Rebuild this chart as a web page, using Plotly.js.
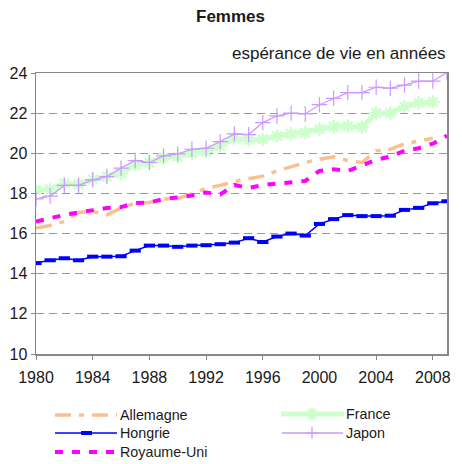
<!DOCTYPE html>
<html>
<head>
<meta charset="utf-8">
<script src="https://cdn.plot.ly/plotly-3.0.1.min.js"></script>
<style>html,body{margin:0;padding:0;background:#fff;}#chart{width:462px;height:464px;}</style>
</head>
<body>
<div id="chart"></div>
<script>
const years = [1980,1981,1982,1983,1984,1985,1986,1987,1988,1989,1990,1991,1992,1993,1994,1995,1996,1997,1998,1999,2000,2001,2002,2003,2004,2005,2006,2007,2008,2009];
const yearsFrance = years.slice(0, 29);
const yearsAllemagne = years.slice(0, 29);

const allemagne = [16.27,16.4,16.6,17.05,17.1,16.93,17.27,17.52,17.55,17.72,17.75,17.98,18.26,18.4,18.6,18.72,18.86,19.12,19.34,19.54,19.7,19.83,19.64,19.54,20.12,20.2,20.47,20.6,20.75];
const france = [18.18,18.2,18.5,18.45,18.7,18.84,19.0,19.42,19.54,19.76,19.84,20.0,20.08,20.37,20.75,20.67,20.7,20.86,20.97,21.03,21.2,21.33,21.36,21.3,22.0,22.0,22.33,22.52,22.56];
const hongrie = [14.53,14.67,14.77,14.67,14.85,14.85,14.87,15.15,15.4,15.4,15.34,15.4,15.42,15.47,15.55,15.77,15.58,15.85,16.0,15.9,16.48,16.72,16.92,16.87,16.87,16.89,17.18,17.28,17.51,17.61];
const japon = [17.73,17.87,18.4,18.4,18.68,18.84,19.26,19.64,19.54,19.87,19.97,20.2,20.25,20.58,20.97,20.93,21.53,21.86,22.0,21.96,22.42,22.74,23.02,23.02,23.29,23.24,23.4,23.6,23.6,24.02];
const royaumeUni = [16.6,16.77,16.93,17.05,17.18,17.27,17.32,17.52,17.55,17.72,17.8,17.9,18.05,17.95,18.42,18.27,18.42,18.48,18.58,18.62,19.12,19.2,19.12,19.42,19.67,19.84,20.13,20.25,20.48,20.88];

const seriesNames = ['Allemagne', 'France', 'Hongrie', 'Japon', 'Royaume-Uni'];
const xTicks = [1980,1984,1988,1992,1996,2000,2004,2008];
const yTicks = [10,12,14,16,18,20,22,24];

const COL = {Allemagne: '#FAC090', France: '#CCFFCC', Hongrie: '#0000FF', Japon: '#CC99FF', 'Royaume-Uni': '#FF00FF'};
const DASH = {Allemagne: '16px,8px,5px,8px', 'Royaume-Uni': '8px,9px'};

const traces = [
  {x: yearsAllemagne, y: allemagne, name: seriesNames[0], mode: 'lines',
   line: {color: COL.Allemagne, width: 3.5, dash: DASH.Allemagne}},
  {x: yearsFrance, y: france, name: seriesNames[1], mode: 'lines+markers',
   line: {color: COL.France, width: 5},
   marker: {symbol: 'asterisk-open', size: 11, color: COL.France, line: {color: COL.France, width: 2.5}}},
  {x: years, y: hongrie, name: seriesNames[2], mode: 'lines+markers',
   line: {color: COL.Hongrie, width: 1.5},
   marker: {symbol: 'line-ew-open', size: 8, color: COL.Hongrie, line: {color: COL.Hongrie, width: 4}}},
  {x: years, y: japon, name: seriesNames[3], mode: 'lines+markers',
   line: {color: COL.Japon, width: 1.3},
   marker: {symbol: 'cross-thin-open', size: 11, color: COL.Japon, line: {color: COL.Japon, width: 1.2}}},
  {x: years, y: royaumeUni, name: seriesNames[4], mode: 'lines',
   line: {color: COL['Royaume-Uni'], width: 4, dash: DASH['Royaume-Uni']}}
];

// plot area geometry (pixels) used to place the hand-built legend
const W = 462, H = 464, ML = 36, MR = 15, MT = 73, MB = 110;
const PW = W - ML - MR, PH = H - MT - MB;
const px = v => (v - ML) / PW;
const py = v => (H - MB - v) / PH;

const shapes = [];
const annotations = [];
function seg(x0, y0, x1, y1, color, width, dash) {
  shapes.push({type: 'line', xref: 'paper', yref: 'paper', x0: px(x0), y0: py(y0), x1: px(x1), y1: py(y1),
               line: {color: color, width: width, dash: dash || 'solid'}});
}
function label(text, x, y) {
  annotations.push({text: text, xref: 'paper', yref: 'paper', x: px(x), y: py(y), xanchor: 'left', yanchor: 'middle',
                    showarrow: false, font: {size: 14.3, color: '#1a1a1a'}});
}
// legend column 1
seg(55, 415, 117, 415, COL.Allemagne, 3.5, DASH.Allemagne); label(seriesNames[0], 118, 415);
seg(55, 433, 117, 433, COL.Hongrie, 1.5); seg(81, 433, 92, 433, COL.Hongrie, 4); label(seriesNames[2], 118, 433);
seg(55, 452, 117, 452, COL['Royaume-Uni'], 4, DASH['Royaume-Uni']); label(seriesNames[4], 118, 452);
// legend column 2
seg(281, 414, 344, 414, COL.France, 5);
seg(308, 409, 316, 419, COL.France, 2.5); seg(308, 419, 316, 409, COL.France, 2.5); seg(312, 408, 312, 420, COL.France, 2.5);
label(seriesNames[1], 344, 414);
seg(282, 433, 343, 433, COL.Japon, 1.3); seg(312, 427, 312, 439, COL.Japon, 1.2); seg(306, 433, 318, 433, COL.Japon, 1.2);
label(seriesNames[3], 344, 433);

annotations.push(
  {text: '<b>Femmes</b>', xref: 'paper', yref: 'paper', x: px(230), y: py(16), xanchor: 'center', yanchor: 'middle',
   showarrow: false, font: {size: 17, color: '#1a1a1a'}},
  {text: 'espérance de vie en années', xref: 'paper', yref: 'paper', x: px(448), y: py(53), xanchor: 'right', yanchor: 'middle',
   showarrow: false, font: {size: 17, color: '#1a1a1a'}}
);

const layout = {
  width: W, height: H,
  margin: {l: ML, r: MR, t: MT, b: MB},
  paper_bgcolor: '#fff', plot_bgcolor: '#fff',
  font: {family: 'Liberation Sans, Arial, sans-serif', size: 16, color: '#1a1a1a'},
  showlegend: false,
  xaxis: {range: [1980, 2009], tickvals: xTicks, ticks: 'outside', ticklen: 4, tickcolor: '#888',
          showline: true, linecolor: '#888', linewidth: 1.5, mirror: true, showgrid: false, zeroline: false,
          ticklabelstandoff: 4, tickfont: {size: 16}},
  yaxis: {range: [10, 24], tickvals: yTicks, ticks: 'outside', ticklen: 4, tickcolor: '#888',
          showline: true, linecolor: '#888', linewidth: 1.5, mirror: true,
          showgrid: true, gridcolor: '#999', griddash: '8px,5px', gridwidth: 1.2, zeroline: false,
          tickfont: {size: 16}},
  shapes: shapes,
  annotations: annotations
};

Plotly.newPlot('chart', traces, layout, {displayModeBar: false, staticPlot: true});
</script>
</body>
</html>
